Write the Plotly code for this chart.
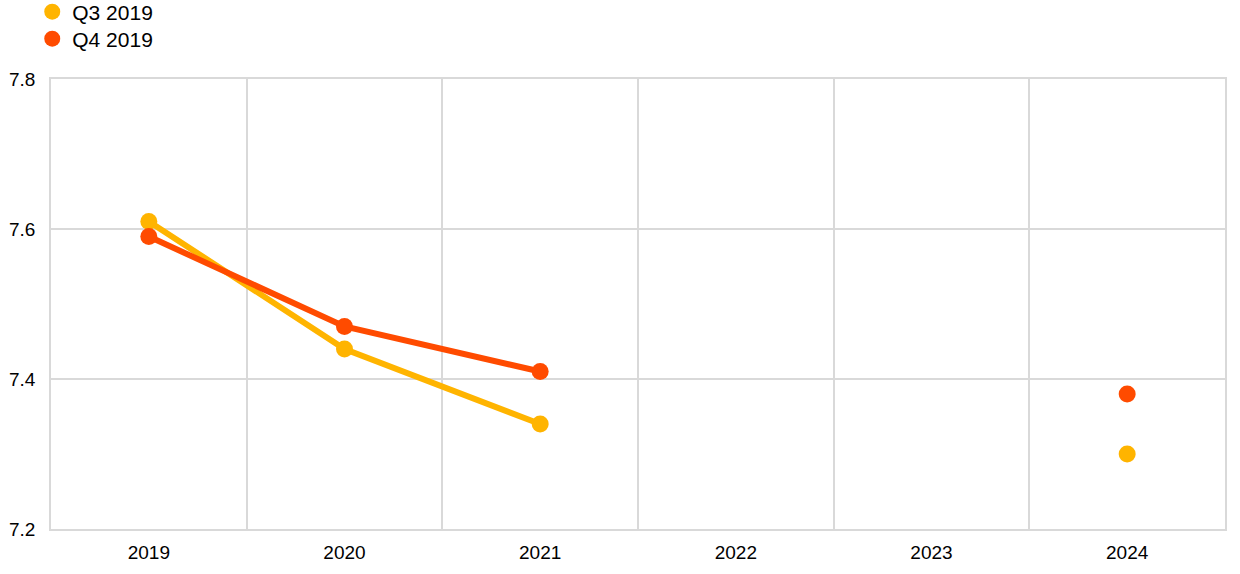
import plotly.graph_objects as go

years = ["2019", "2020", "2021", "2022", "2023", "2024"]
q3_2019 = [7.61, 7.44, 7.34, None, None, 7.30]
q4_2019 = [7.59, 7.47, 7.41, None, None, 7.38]
y_ticks = [7.2, 7.4, 7.6, 7.8]
series = [("Q3 2019", q3_2019, "#FFB400", "legend"), ("Q4 2019", q4_2019, "#FF4B00", "legend2")]

fig = go.Figure()
for name, vals, col, lg in series:
    fig.add_trace(go.Scatter(x=years, y=vals, name=name, mode="lines+markers",
                             line=dict(color=col, width=6),
                             marker=dict(color=col, size=17), connectgaps=False,
                             showlegend=False))
for name, vals, col, lg in series:
    fig.add_trace(go.Scatter(x=[None], y=[None], name=name, mode="markers",
                             marker=dict(color=col, size=16), showlegend=True, legend=lg))

leg_common = dict(orientation="v", xanchor="left", yanchor="middle",
                  font=dict(size=21, family="Liberation Sans, Arial, sans-serif"),
                  itemsizing="trace", bgcolor="rgba(0,0,0,0)", xref="container", yref="container")

fig.update_layout(
    width=1240, height=574,
    margin=dict(l=51, r=15, t=79, b=45, autoexpand=False),
    paper_bgcolor="white", plot_bgcolor="white",
    font=dict(family="Liberation Sans, Arial, sans-serif", size=19, color="black"),
    showlegend=True,
    legend=dict(x=0.026, y=1 - 12 / 574, **leg_common),
    legend2=dict(x=0.026, y=1 - 39 / 574, **leg_common),
    xaxis=dict(type="category", tickson="boundaries", showgrid=True, gridcolor="#D9D9D9",
               gridwidth=1.5, showline=True, linecolor="#D9D9D9", linewidth=1.5, mirror=True,
               ticks="", ticklabelstandoff=5, range=[-0.5, 5.5], automargin=False),
    yaxis=dict(range=[7.2, 7.8], tickvals=y_ticks, tickformat=".1f", showgrid=True,
               gridcolor="#D9D9D9", gridwidth=1.5, showline=True, linecolor="#D9D9D9",
               linewidth=1.5, mirror=True, ticks="", ticklabelstandoff=10, zeroline=False,
               automargin=False),
)

fig.write_html("out.html", config={"displayModeBar": False},
               post_script="document.body.style.margin='0';")
